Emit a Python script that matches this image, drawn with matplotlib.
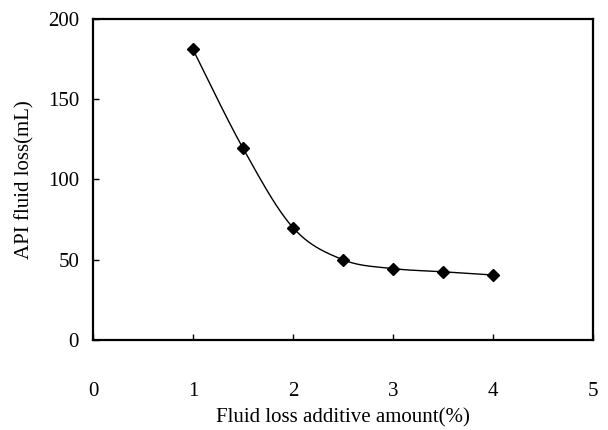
import numpy as np
import matplotlib
matplotlib.use("Agg")
import matplotlib.pyplot as plt

amount = [1.0, 1.5, 2.0, 2.5, 3.0, 3.5, 4.0]
fluid_loss = [181, 119.5, 70, 50, 44.5, 42.5, 40.5]

x_ticks = [0, 1, 2, 3, 4, 5]
y_ticks = [0, 50, 100, 150, 200]


def smooth_curve(xs, ys, n=40):
    xs = np.asarray(xs, float)
    ys = np.asarray(ys, float)
    px = np.concatenate([[xs[0]], xs, [xs[-1]]])
    py = np.concatenate([[ys[0]], ys, [ys[-1]]])
    outx, outy = [], []
    t = np.linspace(0, 1, n)
    for i in range(1, len(px) - 2):
        p0 = np.array([px[i], py[i]])
        p3 = np.array([px[i + 1], py[i + 1]])
        p1 = p0 + (np.array([px[i + 1], py[i + 1]]) - np.array([px[i - 1], py[i - 1]])) / 6
        p2 = p3 - (np.array([px[i + 2], py[i + 2]]) - np.array([px[i], py[i]])) / 6
        b = ((1 - t) ** 3)[:, None] * p0 + (3 * (1 - t) ** 2 * t)[:, None] * p1 \
            + (3 * (1 - t) * t ** 2)[:, None] * p2 + (t ** 3)[:, None] * p3
        outx.extend(b[:, 0])
        outy.extend(b[:, 1])
    return outx, outy


plt.rcParams['font.family'] = ['Liberation Serif', 'DejaVu Serif']

fig = plt.figure(figsize=(6.08, 4.30), dpi=100)
ax = fig.add_axes([93 / 608, 90 / 430, 500 / 608, 321 / 430])

cx, cy = smooth_curve(amount, fluid_loss)
ax.plot(cx, cy, color='black', linewidth=1.0)
ax.plot(amount, fluid_loss, linestyle='none', marker='D', markersize=6.5,
        color='black')

ax.set_xlim(0, 5)
ax.set_ylim(0, 200)
ax.set_xticks(x_ticks)
ax.set_yticks(y_ticks)
ax.set_xticklabels([str(v) for v in x_ticks])
ax.set_yticklabels([str(v) for v in y_ticks])

ax.tick_params(axis='both', direction='in', length=4, width=1, labelsize=15,
               colors='black')
ax.tick_params(axis='x', pad=30)
ax.tick_params(axis='y', pad=10)

for s in ax.spines.values():
    s.set_linewidth(1.6)
    s.set_color('black')

fig.text(343 / 608, 1 - 418 / 430, 'Fluid loss additive amount(%)', fontsize=15,
         ha='center', va='center')
fig.text(25 / 608, 1 - 180 / 430, 'API fluid loss(mL)', fontsize=15,
         ha='center', va='center', rotation=90)

fig.savefig('out.png', dpi=100)
